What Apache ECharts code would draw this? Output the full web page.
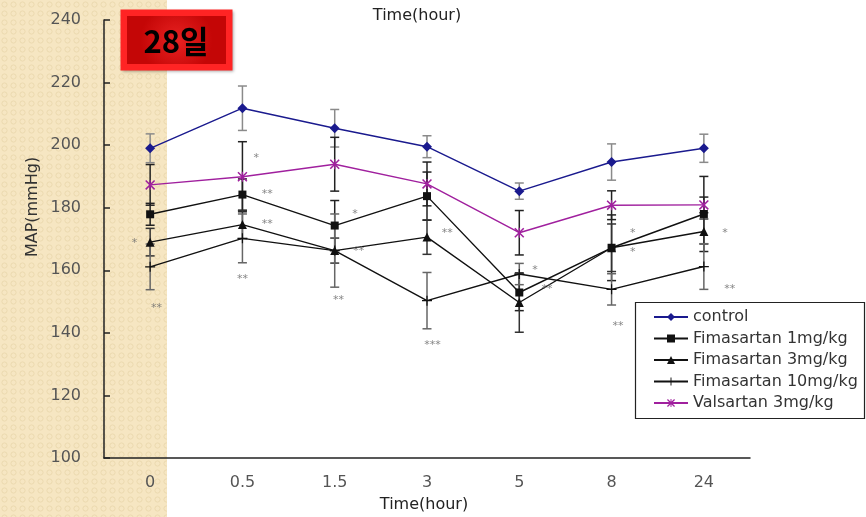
<!DOCTYPE html>
<html><head><meta charset="utf-8">
<script src="https://cdn.jsdelivr.net/npm/echarts@6/dist/echarts.min.js"></script>
<style>html,body{margin:0;padding:0;background:#fff}#c{width:866px;height:517px}</style>
</head><body><div id="c"></div>
<script>
// ---- data ----
const categories = ['0', '0.5', '1.5', '3', '5', '8', '24'];
const yTicks = [100, 120, 140, 160, 180, 200, 220, 240];
const seriesNames = ['control', 'Fimasartan 1mg/kg', 'Fimasartan 3mg/kg', 'Fimasartan 10mg/kg', 'Valsartan 3mg/kg'];
const control = [199.0, 211.8, 205.4, 199.5, 185.3, 194.6, 199.0];
const controlErr = [4.6, 7.1, 6.0, 3.5, 2.6, 5.8, 4.5];
const fima1 = [177.9, 184.2, 174.3, 183.7, 152.9, 167.2, 178.0];
const fima1Err = [3.5, 5.0, 8.0, 7.7, 5.8, 10.5, 12.0];
const fima3 = [169.0, 174.6, 166.3, 170.6, 149.7, 167.2, 172.4];
const fima3Err = [4.4, 4.5, 4.0, 5.5, 9.5, 7.6, 4.0];
const fima10 = [161.1, 170.2, 166.3, 150.3, 158.8, 153.9, 161.2];
const fima10Err = [7.3, 7.8, 11.7, 9.0, 3.4, 5.0, 7.3];
const valsartan = [187.3, 189.9, 193.9, 187.6, 172.0, 180.8, 180.9];
const valsartanErr = [6.5, 11.2, 8.6, 7.0, 7.1, 4.6, 2.5];
// significance marks: position along time axis (category index units), MAP level, text
const sigX = [-0.17, 0.07, 1.15, 1.27, 1.27, 1.0, 2.22, 2.26, 2.04, 3.22, 3.06, 4.17, 4.30, 5.23, 5.23, 5.07, 6.23, 6.28];
const sigY = [168.6, 148.0, 195.9, 184.4, 174.9, 157.2, 177.9, 166.0, 150.5, 171.8, 136.0, 160.1, 153.9, 171.8, 165.7, 142.3, 171.8, 153.9];
const sigText = ['*', '**', '*', '**', '**', '**', '*', '**', '**', '**', '***', '*', '**', '*', '*', '**', '*', '**'];

// ---- helpers ----
const FONT = 'DejaVu Sans';
const plusPath = 'path://M0,4.4H10V5.6H0Z M4.4,0H5.6V10H4.4Z';
const starPath = 'path://M0,1.1L1.1,0L10,8.9L8.9,10Z M8.9,0L10,1.1L1.1,10L0,8.9Z M4.4,0H5.6V10H4.4Z';

function errSeries(vals, errs, color) {
  return {
    type: 'custom', silent: true, z: 1,
    xAxisIndex: 0, yAxisIndex: 0,
    encode: { x: 0, y: [1, 2] },
    data: vals.map((v, i) => [i, v - errs[i], v + errs[i]]),
    renderItem(params, api) {
      const lo = api.coord([api.value(0), api.value(1)]);
      const hi = api.coord([api.value(0), api.value(2)]);
      const w = 4.5;
      const st = { stroke: color, lineWidth: 1.5 };
      return { type: 'group', children: [
        { type: 'line', shape: { x1: lo[0], y1: lo[1], x2: hi[0], y2: hi[1] }, style: st },
        { type: 'line', shape: { x1: lo[0] - w, y1: lo[1], x2: lo[0] + w, y2: lo[1] }, style: st },
        { type: 'line', shape: { x1: hi[0] - w, y1: hi[1], x2: hi[0] + w, y2: hi[1] }, style: st }
      ]};
    }
  };
}
function lineSeries(name, vals, color, symbol, size) {
  return {
    type: 'line', name: name, data: vals, z: 3,
    symbol: symbol, symbolSize: size,
    lineStyle: { color: color, width: 1.4 },
    itemStyle: { color: color },
    emphasis: { disabled: true }
  };
}

// background pattern for the left strip
const pc = document.createElement('canvas');
pc.width = 9; pc.height = 9;
const g = pc.getContext('2d');
g.fillStyle = '#f6e6c2'; g.fillRect(0, 0, 9, 9);
g.strokeStyle = '#ecdab0'; g.lineWidth = 1;
g.beginPath(); g.arc(4.5, 4.5, 2.6, 0, Math.PI * 2); g.stroke();

const chart = echarts.init(document.getElementById('c'), null, { renderer: 'canvas' });
chart.setOption({
  animation: false,
  backgroundColor: '#ffffff',
  grid: { left: 104, right: 116, top: 20, bottom: 59 },
  xAxis: [{
    type: 'category', data: categories, boundaryGap: true,
    axisLine: { onZero: false, lineStyle: { color: '#222', width: 1.5 } },
    axisTick: { inside: true, length: 6, interval: 0, lineStyle: { color: '#222', width: 1.5 } },
    axisLabel: { color: '#555', fontFamily: FONT, fontSize: 16, margin: 17 },
    splitLine: { show: false }
  }, {
    type: 'value', min: -0.5, max: 6.5, show: false,
    axisLine: { onZero: false }
  }],
  yAxis: {
    type: 'value', min: yTicks[0], max: yTicks[yTicks.length - 1], interval: 20,
    axisLine: { show: true, onZero: false, lineStyle: { color: '#222', width: 1.5 } },
    axisTick: { show: true, inside: true, length: 6, lineStyle: { color: '#222', width: 1.5 } },
    axisLabel: { color: '#555', fontFamily: FONT, fontSize: 16, margin: 23 },
    splitLine: { show: false }
  },
  legend: {
    data: seriesNames, orient: 'vertical', left: 653, top: 309, z: 10,
    padding: 0, itemWidth: 34, itemHeight: 10, itemGap: 5.5,
    textStyle: { color: '#333', fontFamily: FONT, fontSize: 16, lineHeight: 16 },
    selectedMode: false
  },
  graphic: [
    { type: 'rect', z: -10, silent: true, shape: { x: 0, y: 0, width: 167, height: 517 },
      style: { fill: { image: pc, repeat: 'repeat' } } },
    { type: 'rect', z: 3, silent: true, shape: { x: 635.5, y: 302.5, width: 229, height: 116 },
      style: { fill: '#fff', stroke: '#222', lineWidth: 1.2 } },
    { type: 'text', z: 5, silent: true, x: 417, y: 16,
      style: { text: 'Time(hour)', fill: '#222', font: '16px "DejaVu Sans"', align: 'center', verticalAlign: 'middle' } },
    { type: 'text', z: 5, silent: true, x: 424, y: 505,
      style: { text: 'Time(hour)', fill: '#222', font: '16px "DejaVu Sans"', align: 'center', verticalAlign: 'middle' } },
    { type: 'text', z: 5, silent: true, x: 33, y: 207, rotation: Math.PI / 2,
      style: { text: 'MAP(mmHg)', fill: '#333', font: '16px "DejaVu Sans"', align: 'center', verticalAlign: 'middle' } },
    { type: 'rect', z: 20, silent: true, shape: { x: 120.5, y: 9.5, width: 112, height: 61 },
      style: { fill: '#ff2424', shadowBlur: 3, shadowColor: 'rgba(0,0,0,0.35)', shadowOffsetX: 1, shadowOffsetY: 1 } },
    { type: 'rect', z: 21, silent: true, shape: { x: 127, y: 16, width: 99, height: 48 },
      style: { fill: { type: 'radial', x: 0.5, y: 0.5, r: 0.75,
        colorStops: [{ offset: 0, color: '#e82222' }, { offset: 1, color: '#c40606' }] } } },
    { type: 'text', z: 22, silent: true, x: 176, y: 41,
      style: { text: '28일', fill: '#000', font: 'bold 31px "Noto Sans CJK KR"', align: 'center', verticalAlign: 'middle' } }
  ],
  series: [
    errSeries(control, controlErr, '#8a8a8a'),
    errSeries(valsartan, valsartanErr, '#222'),
    errSeries(fima1, fima1Err, '#222'),
    errSeries(fima3, fima3Err, '#333'),
    errSeries(fima10, fima10Err, '#666'),
    lineSeries(seriesNames[0], control, '#1a1a8e', 'diamond', 10),
    lineSeries(seriesNames[1], fima1, '#111', 'rect', 8),
    lineSeries(seriesNames[2], fima3, '#111', 'triangle', 9),
    lineSeries(seriesNames[3], fima10, '#111', plusPath, 10),
    lineSeries(seriesNames[4], valsartan, '#a0209e', starPath, 10),
    {
      type: 'scatter', xAxisIndex: 1, yAxisIndex: 0, silent: true, z: 4,
      symbolSize: 0,
      data: sigX.map((x, i) => [x, sigY[i], sigText[i]]),
      label: { show: true, position: 'inside', formatter: p => p.value[2],
        color: '#666', fontFamily: FONT, fontSize: 11 }
    }
  ]
});
</script>
</body></html>
